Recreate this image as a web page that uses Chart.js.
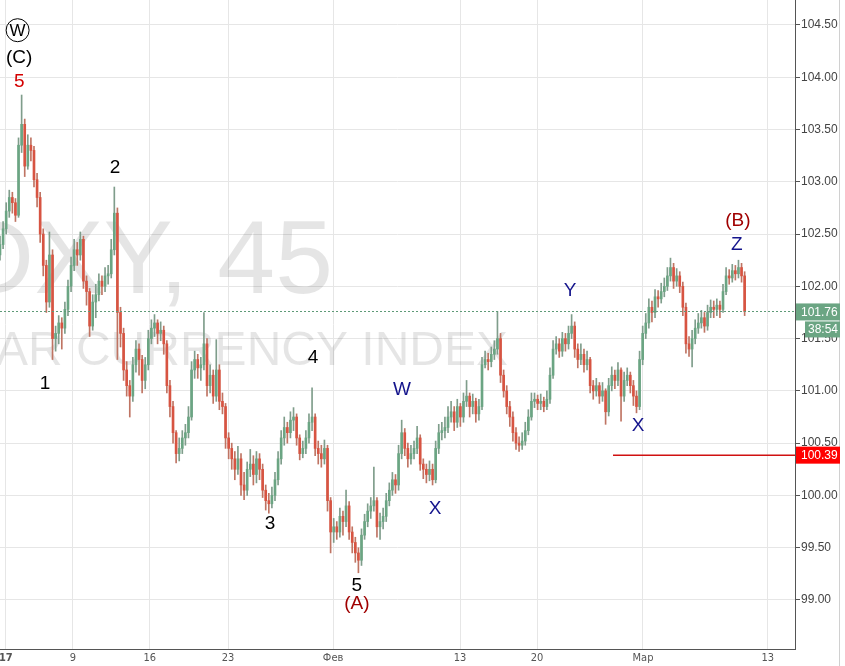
<!DOCTYPE html>
<html>
<head>
<meta charset="utf-8">
<script src="https://cdn.jsdelivr.net/npm/chart.js@4.4.0/dist/chart.umd.min.js"></script>
<style>
html,body{margin:0;padding:0;background:#fff;}
</style>
</head>
<body>
<canvas id="dxy" width="845" height="666"></canvas>
<script>
// DXY 45min, roughly 5 bars per trading day
const opens = [
 102.30,102.40,102.55,102.72,102.85,102.80,102.68,103.35,103.55,103.15,
 103.35,103.30,103.02,102.85,102.50,102.20,101.85,102.30,101.50,101.55,
 101.65,101.60,101.78,102.00,102.20,102.35,102.30,102.45,102.05,101.95,
 101.62,101.85,101.92,102.05,102.00,102.10,102.12,102.35,102.70,101.75,
 101.55,101.20,101.05,100.95,101.25,101.40,101.30,101.10,101.25,101.50,
 101.60,101.65,101.55,101.58,101.45,101.05,100.85,100.60,100.40,100.45,
 100.55,100.60,100.75,101.20,101.30,101.22,101.25,101.45,101.05,101.15,
 100.95,101.20,100.90,100.85,100.55,100.45,100.35,100.25,100.35,100.10,
 100.05,100.25,100.30,100.20,100.35,100.25,100.05,99.95,99.92,100.00,
 100.15,100.35,100.55,100.65,100.60,100.72,100.75,100.55,100.40,100.45,
 100.55,100.70,100.75,100.45,100.40,100.35,100.45,99.95,99.65,99.70,
 99.65,99.80,99.75,99.90,99.65,99.55,99.45,99.38,99.62,99.75,
 99.85,99.90,99.95,99.70,99.75,99.80,99.95,100.05,100.15,100.10,
 100.40,100.60,100.45,100.35,100.40,100.45,100.55,100.30,100.25,100.20,
 100.25,100.15,100.45,100.60,100.62,100.65,100.75,100.80,100.70,100.85,
 100.75,100.90,100.95,100.85,100.90,100.78,100.85,101.25,101.30,101.28,
 101.35,101.40,101.50,101.15,101.00,100.85,100.75,100.60,100.50,100.48,
 100.52,100.62,100.75,100.90,100.92,100.88,100.90,100.85,100.92,101.15,
 101.40,101.45,101.38,101.50,101.45,101.55,101.62,101.40,101.30,101.35,
 101.25,101.30,101.05,101.00,101.05,100.95,101.00,100.80,101.05,101.15,
 101.10,101.20,100.95,101.10,101.15,101.05,100.95,100.85,101.30,101.55,
 101.65,101.80,101.75,101.90,101.88,101.95,102.00,102.10,102.18,102.05,
 102.10,102.00,101.80,101.45,101.40,101.50,101.60,101.65,101.70,101.62,
 101.75,101.80,101.78,101.82,101.78,101.95,102.10,102.08,102.15,102.12,
 102.18,102.10
];
const highs = [
 102.48,102.62,102.80,102.92,102.90,102.84,103.42,103.83,103.60,103.45,
 103.42,103.34,103.08,102.90,102.55,102.25,102.52,102.35,101.62,101.72,
 101.70,101.85,102.06,102.28,102.45,102.42,102.52,102.48,102.10,101.98,
 101.92,102.02,102.12,102.10,102.18,102.20,102.45,102.95,102.75,101.80,
 101.60,101.28,101.10,101.32,101.48,101.45,101.34,101.32,101.58,101.68,
 101.73,101.68,101.66,101.62,101.48,101.10,100.90,100.62,100.55,100.62,
 100.68,100.85,101.28,101.38,101.35,101.32,101.75,101.50,101.25,101.20,
 101.49,101.25,100.98,100.88,100.60,100.50,100.42,100.47,100.40,100.22,
 100.32,100.44,100.38,100.42,100.40,100.30,100.10,100.02,100.08,100.22,
 100.42,100.62,100.75,100.70,100.80,100.84,100.78,100.58,100.52,100.62,
 100.78,101.03,100.78,100.52,100.48,100.53,100.48,99.98,99.78,99.75,
 99.88,99.85,100.05,99.94,99.70,99.60,99.50,99.68,99.82,99.92,
 99.98,100.27,99.98,99.83,99.88,100.02,100.12,100.22,100.20,100.48,
 100.72,100.64,100.50,100.48,100.52,100.66,100.58,100.35,100.30,100.33,
 100.30,100.52,100.68,100.70,100.75,100.85,100.90,100.85,100.92,100.88,
 100.98,101.10,100.98,100.97,100.93,100.92,101.32,101.38,101.36,101.42,
 101.48,101.76,101.55,101.20,101.05,100.90,100.80,100.65,100.56,100.60,
 100.70,100.82,100.98,100.98,100.96,100.97,100.94,101.00,101.22,101.48,
 101.52,101.50,101.56,101.55,101.62,101.73,101.66,101.45,101.45,101.40,
 101.38,101.32,101.10,101.12,101.08,101.08,101.02,101.12,101.23,101.20,
 101.27,101.22,101.18,101.22,101.18,101.10,101.00,101.38,101.62,101.74,
 101.88,101.86,101.97,101.96,102.03,102.08,102.18,102.27,102.22,102.17,
 102.14,102.04,101.84,101.52,101.58,101.68,101.74,101.77,101.75,101.82,
 101.87,101.86,101.88,101.86,102.02,102.18,102.16,102.21,102.20,102.25,
 102.22,102.14
];
const lows = [
 102.25,102.36,102.50,102.66,102.70,102.62,102.66,103.28,103.05,103.12,
 103.20,102.95,102.76,102.42,102.10,101.75,101.80,101.30,101.38,101.45,
 101.40,101.55,101.72,101.95,102.15,102.20,102.25,101.98,101.82,101.52,
 101.58,101.70,101.86,101.92,101.95,102.02,102.08,102.30,101.30,101.42,
 101.10,100.95,100.75,100.90,101.18,101.15,100.98,101.02,101.20,101.45,
 101.52,101.45,101.48,101.35,100.98,100.75,100.50,100.31,100.33,100.40,
 100.48,100.55,100.72,101.12,101.12,101.10,101.20,100.95,100.98,100.88,
 100.90,100.82,100.78,100.45,100.35,100.25,100.15,100.20,100.00,99.96,
 100.00,100.18,100.10,100.12,100.15,99.98,99.86,99.83,99.88,99.95,
 100.10,100.30,100.48,100.50,100.55,100.62,100.48,100.34,100.36,100.40,
 100.50,100.62,100.38,100.30,100.27,100.30,99.85,99.45,99.55,99.58,
 99.60,99.62,99.70,99.58,99.45,99.36,99.26,99.33,99.58,99.70,
 99.78,99.85,99.60,99.58,99.68,99.75,99.90,100.00,100.02,100.05,
 100.35,100.38,100.27,100.30,100.35,100.40,100.24,100.16,100.12,100.14,
 100.10,100.12,100.40,100.53,100.55,100.60,100.70,100.62,100.65,100.66,
 100.70,100.85,100.75,100.78,100.70,100.72,100.82,101.22,101.20,101.23,
 101.30,101.35,101.08,100.94,100.78,100.66,100.52,100.44,100.42,100.44,
 100.48,100.58,100.72,100.84,100.82,100.82,100.80,100.82,100.88,101.12,
 101.35,101.32,101.33,101.38,101.40,101.50,101.32,101.22,101.25,101.18,
 101.20,100.98,100.92,100.95,100.88,100.90,100.68,100.76,101.00,101.02,
 101.05,100.71,100.90,101.05,100.98,100.86,100.79,100.82,101.25,101.50,
 101.60,101.66,101.70,101.80,101.84,101.90,101.96,102.05,101.98,102.00,
 101.94,101.72,101.36,101.33,101.23,101.45,101.55,101.60,101.56,101.58,
 101.70,101.70,101.72,101.70,101.75,101.92,102.02,102.04,102.06,102.08,
 102.04,101.72
];
const closes = [
 102.40,102.55,102.72,102.85,102.80,102.68,103.35,103.55,103.15,103.35,
 103.30,103.02,102.85,102.50,102.20,101.85,102.30,101.50,101.55,101.65,
 101.60,101.78,102.00,102.20,102.35,102.30,102.45,102.05,101.95,101.62,
 101.85,101.92,102.05,102.00,102.10,102.12,102.35,102.70,101.75,101.55,
 101.20,101.05,100.95,101.25,101.40,101.30,101.10,101.25,101.50,101.60,
 101.65,101.55,101.58,101.45,101.05,100.85,100.60,100.40,100.45,100.55,
 100.60,100.75,101.20,101.30,101.22,101.25,101.45,101.05,101.15,100.95,
 101.20,100.90,100.85,100.55,100.45,100.35,100.25,100.35,100.10,100.05,
 100.25,100.30,100.20,100.35,100.25,100.05,99.95,99.92,100.00,100.15,
 100.35,100.55,100.65,100.60,100.72,100.75,100.55,100.40,100.45,100.55,
 100.70,100.75,100.45,100.40,100.35,100.45,99.95,99.65,99.70,99.65,
 99.80,99.75,99.90,99.65,99.55,99.45,99.38,99.62,99.75,99.85,
 99.90,99.95,99.70,99.75,99.80,99.95,100.05,100.15,100.10,100.40,
 100.60,100.45,100.35,100.40,100.45,100.55,100.30,100.25,100.20,100.25,
 100.15,100.45,100.60,100.62,100.65,100.75,100.80,100.70,100.85,100.75,
 100.90,100.95,100.85,100.90,100.78,100.85,101.25,101.30,101.28,101.35,
 101.40,101.50,101.15,101.00,100.85,100.75,100.60,100.50,100.48,100.52,
 100.62,100.75,100.90,100.92,100.88,100.90,100.85,100.92,101.15,101.40,
 101.45,101.38,101.50,101.45,101.55,101.62,101.40,101.30,101.35,101.25,
 101.30,101.05,101.00,101.05,100.95,101.00,100.80,101.05,101.15,101.10,
 101.20,100.95,101.10,101.15,101.05,100.95,100.85,101.30,101.55,101.65,
 101.80,101.75,101.90,101.88,101.95,102.00,102.10,102.18,102.05,102.10,
 102.00,101.80,101.45,101.40,101.50,101.60,101.65,101.70,101.62,101.75,
 101.80,101.78,101.82,101.78,101.95,102.10,102.08,102.15,102.12,102.18,
 102.10,101.76
];

// time axis: bar index where each date label sits
const xTickPos = [1.9, 23.6, 48.5, 73.8, 107.8, 148.9, 173.8, 208.1, 248.5];
const xTickLabels = ['17', '9', '16', '23', 'Фев', '13', '20', 'Мар', '13'];
const yTicks = [99, 99.5, 100, 100.5, 101, 101.5, 102, 102.5, 103, 103.5, 104, 104.5];

const lastPrice = 101.76;
const countdown = '38:54';
const supportLevel = 100.39;
const supportFrom = 198.4;

// wave count labels (bar index, price)
const waveLabels = [
  {text: 'W', i: 5.7, p: 104.45, color: '#000', circle: true},
  {text: '(C)', i: 6.2, p: 104.19, color: '#000'},
  {text: '5', i: 6.25, p: 103.955, color: '#d40000'},
  {text: '2', i: 37.2, p: 103.13, color: '#000'},
  {text: '1', i: 14.6, p: 101.07, color: '#000'},
  {text: '4', i: 101.3, p: 101.32, color: '#000'},
  {text: '3', i: 87.4, p: 99.73, color: '#000'},
  {text: '5', i: 115.5, p: 99.14, color: '#000'},
  {text: '(A)', i: 115.5, p: 98.96, color: '#a00000'},
  {text: 'W', i: 130.1, p: 101.01, color: '#14148c'},
  {text: 'X', i: 140.8, p: 99.87, color: '#14148c'},
  {text: 'Y', i: 184.5, p: 101.96, color: '#14148c'},
  {text: 'X', i: 206.5, p: 100.67, color: '#14148c'},
  {text: 'Z', i: 238.5, p: 102.40, color: '#14148c'},
  {text: '(B)', i: 238.8, p: 102.63, color: '#a00000'}
];

const upBody = '#6ba583', downBody = '#d75442';
const upWick = '#7f9d8b', downWick = '#bf7463';
const isUp = closes.map((c, i) => c >= opens[i]);
const FONT = '"Liberation Sans", Arial, sans-serif';

function noPad(s) {
  s.paddingLeft = 0; s.paddingRight = 0; s.paddingTop = 0; s.paddingBottom = 0;
}

const overlay = {
  id: 'overlay',
  beforeDatasetsDraw(chart) {
    const {ctx, chartArea: a} = chart;
    ctx.save();
    ctx.beginPath();
    ctx.rect(a.left, a.top, a.right - a.left, a.bottom - a.top);
    ctx.clip();
    ctx.fillStyle = 'rgba(0,0,0,0.1)';
    ctx.textAlign = 'right';
    ctx.textBaseline = 'alphabetic';
    ctx.font = '104px ' + FONT;
    ctx.fillText('DXY, 45', 333, 293);
    ctx.font = '48px ' + FONT;
    ctx.fillText('U.S. DOLLAR CURRENCY INDEX', 508, 365);
    ctx.restore();
  },
  afterDatasetsDraw(chart) {
    const {ctx, chartArea: a, scales: {x, y}} = chart;
    ctx.save();
    // last price line, dotted
    const yl = Math.round(y.getPixelForValue(lastPrice));
    ctx.fillStyle = '#5f9a78';
    for (let px = a.left; px < a.right; px += 4) ctx.fillRect(px, yl, 2, 1);
    // horizontal level
    const ys = Math.round(y.getPixelForValue(supportLevel));
    const xs = x.getPixelForValue(supportFrom);
    ctx.fillStyle = '#d01010';
    ctx.fillRect(xs, ys - 0.5, a.right - xs, 1.5);
    // wave labels
    ctx.textAlign = 'center';
    ctx.textBaseline = 'middle';
    waveLabels.forEach(l => {
      const px = x.getPixelForValue(l.i), py = y.getPixelForValue(l.p);
      ctx.fillStyle = l.color;
      if (l.circle) {
        ctx.strokeStyle = l.color;
        ctx.lineWidth = 1;
        ctx.beginPath(); ctx.arc(px, py, 11.5, 0, Math.PI * 2); ctx.stroke();
        ctx.font = '17px ' + FONT;
        ctx.fillText(l.text, px, py + 1);
      } else {
        ctx.font = '19px ' + FONT;
        ctx.fillText(l.text, px, py);
      }
    });
    ctx.restore();
  },
  afterDraw(chart) {
    const {ctx, chartArea: a, scales: {y}} = chart;
    ctx.save();
    ctx.fillStyle = '#d0d0d0';
    ctx.fillRect(839, 0, 1, chart.height);
    ctx.font = '12px ' + FONT;
    ctx.textBaseline = 'middle';
    ctx.textAlign = 'left';
    const yl = y.getPixelForValue(lastPrice);
    ctx.fillStyle = upBody;
    ctx.fillRect(a.right + 1, yl - 8, 44, 17);
    ctx.fillRect(a.right + 10, yl + 10, 35, 16);
    const ys = y.getPixelForValue(supportLevel);
    ctx.fillStyle = '#f00';
    ctx.fillRect(a.right + 1, ys - 8, 44, 17);
    ctx.fillStyle = '#fff';
    ctx.fillText(lastPrice.toFixed(2), a.right + 6, yl + 1);
    ctx.fillText(countdown, a.right + 13, yl + 18);
    ctx.fillText(supportLevel.toFixed(2), a.right + 6, ys + 1);
    ctx.restore();
  }
};

new Chart(document.getElementById('dxy'), {
  type: 'bar',
  data: {
    datasets: [
      {
        label: 'body',
        data: closes.map((c, i) => ({x: i, y: [opens[i], c]})),
        backgroundColor: isUp.map(u => u ? upBody : downBody),
        barThickness: 2,
        minBarLength: 1,
        grouped: false,
        order: 0
      },
      {
        label: 'wick',
        data: closes.map((c, i) => ({x: i, y: [lows[i], highs[i]]})),
        backgroundColor: isUp.map(u => u ? upWick : downWick),
        barThickness: 1,
        grouped: false,
        order: 1
      }
    ]
  },
  options: {
    responsive: false,
    animation: false,
    layout: {padding: 0},
    plugins: {legend: {display: false}, tooltip: {enabled: false}},
    scales: {
      x: {
        type: 'linear',
        min: 0,
        max: 257.3,
        offset: false,
        grid: {color: '#e6e6e6', offset: false, drawTicks: false},
        border: {color: '#555'},
        afterBuildTicks: s => { s.ticks = xTickPos.map(v => ({value: v})); },
        afterFit: s => { s.height = 17; noPad(s); },
        ticks: {
          autoSkip: false,
          maxRotation: 0,
          padding: 3,
          color: '#555',
          font: c => ({family: '"Liberation Sans Narrow", "DejaVu Sans Condensed", ' + FONT, size: 11, weight: c.index === 0 ? 'bold' : 'normal'}),
          callback: (v, i) => xTickLabels[i]
        }
      },
      y: {
        type: 'linear',
        position: 'right',
        min: 98.531,
        max: 104.739,
        grid: {color: '#e6e6e6', tickLength: 5, tickColor: '#555'},
        border: {color: '#555'},
        afterBuildTicks: s => { s.ticks = yTicks.map(v => ({value: v})); },
        afterFit: s => { s.width = 50; noPad(s); },
        ticks: {
          padding: 1,
          color: '#444',
          font: {family: FONT, size: 12},
          callback: v => Number(v).toFixed(2)
        }
      }
    }
  },
  plugins: [overlay]
});
</script>
</body>
</html>
